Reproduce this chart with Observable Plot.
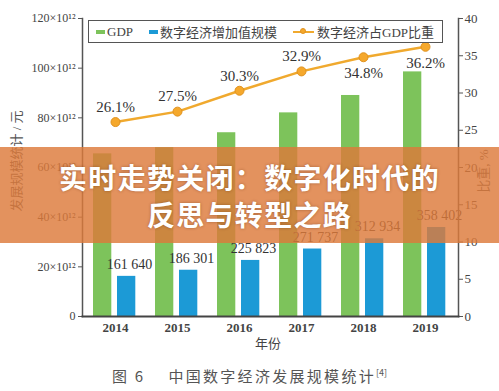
<!DOCTYPE html>
<html><head><meta charset="utf-8">
<script src="https://cdn.jsdelivr.net/npm/d3@7"></script>
<script src="https://cdn.jsdelivr.net/npm/@observablehq/plot@0.6"></script>
<style>
body{margin:0;background:#fff;width:499px;height:391px;overflow:hidden;position:relative;font-family:"Liberation Serif","Noto Sans CJK SC",serif;color:#444;}
#chart{position:absolute;left:0;top:0;}
#legend{position:absolute;left:88px;top:20px;width:355px;height:23px;border:1.5px solid #555;box-sizing:border-box;background:#fff;display:flex;align-items:center;font-size:13px;color:#444;white-space:nowrap;}
#legend .it{display:flex;align-items:center;}
.sw{display:inline-block;width:9px;height:4px;margin-right:2px;}
.ln{position:relative;display:inline-block;width:21px;height:2px;background:#f0a92e;margin-right:3px;}
.ln::after{content:"";position:absolute;left:7px;top:-3px;width:6px;height:6px;border-radius:50%;background:#f5a82c;border:1px solid #e0921f;box-sizing:border-box;}
.ylab{position:absolute;font-size:13px;color:#555;white-space:nowrap;transform:translate(-50%,-50%) rotate(-90deg);}
#xlab{position:absolute;left:268px;top:342px;transform:translate(-50%,-50%);font-size:13px;color:#444;}
#caption{position:absolute;left:0;top:365px;width:499px;text-align:center;font-size:15px;color:#555;font-family:"Noto Sans CJK SC",sans-serif;letter-spacing:2.3px;}
#caption sup{font-size:9px;letter-spacing:0;}
#banner{position:absolute;left:0;top:147px;width:499px;height:96px;background:rgba(221,122,58,0.82);text-align:center;color:#fff;font-family:"Noto Sans CJK SC",sans-serif;font-weight:bold;font-size:28px;letter-spacing:1.3px;line-height:37px;padding-top:12px;box-sizing:border-box;text-shadow:0 0 3px rgba(90,40,10,0.45);}
</style></head><body>
<div id="chart"></div>
<div id="legend"></div>
<div class="ylab" style="left:15px;top:161px;">发展规模统计 / 元</div>
<div class="ylab" style="left:482px;top:171px;">比重, %</div>
<div id="xlab">年份</div>
<div id="caption">图 6　 中国数字经济发展规模统计<sup>[4]</sup></div>
<div id="banner">实时走势关闭：数字化时代的<br>反思与转型之路</div>
<script>
const years = ["2014", "2015", "2016", "2017", "2018", "2019"];
const gdp = [65.5, 68, 74, 82, 89, 98.5];
const digital = [16.164, 18.630, 22.582, 27.174, 31.293, 35.840];
const digitalLabels = ["161 640", "186 301", "225 823", "271 737", "312 934", "358 402"];
const share = [26.1, 27.5, 30.3, 32.9, 34.8, 36.2];
const leftTicks = [0, 20, 40, 60, 80, 100, 120];
const rightTicks = [0, 5, 10, 15, 20, 25, 30, 35, 40];
const seriesNames = ["GDP", "数字经济增加值规模", "数字经济占GDP比重"];
const colors = ["#7dc35b", "#1c9ad6", "#f0a92e"];

const K = 3; // right axis (0–40 %) mapped onto left axis (0–120)
const rows = years.map((y, i) => ({year: y, gdp: gdp[i], digital: digital[i], label: digitalLabels[i], share: share[i]}));

const chart = Plot.plot({
  width: 499, height: 355,
  marginLeft: 82, marginRight: 41, marginTop: 18, marginBottom: 39,
  style: {fontFamily: "Liberation Serif, Noto Sans CJK SC, serif", fontSize: "12px", color: "#444", background: "transparent"},
  x: {type: "band", domain: years, padding: 0, label: null},
  y: {domain: [0, 120], label: null},
  marks: [
    Plot.barY(rows, {x: "year", y: "gdp", fill: colors[0], insetLeft: 9, insetRight: 34.7}),
    Plot.barY(rows, {x: "year", y: "digital", fill: colors[1], insetLeft: 33, insetRight: 10.7}),
    Plot.text(rows, {x: "year", y: "digital", text: "label", dx: 14, dy: -12, fontSize: 14, fill: "#333"}),
    Plot.line(rows, {x: "year", y: d => d.share * K, stroke: colors[2], strokeWidth: 2.5}),
    Plot.dot(rows, {x: "year", y: d => d.share * K, r: 4.5, fill: "#f5a82c", stroke: "#e0921f", strokeWidth: 1}),
    Plot.text(rows, {filter: (d, i) => i < 4, x: "year", y: d => d.share * K, text: d => d.share.toFixed(1) + "%", dy: -15, fontSize: 15, fill: "#333"}),
    Plot.text(rows, {filter: (d, i) => i >= 4, x: "year", y: d => d.share * K, text: d => d.share.toFixed(1) + "%", dy: 16, fontSize: 15, fill: "#333"}),
    Plot.axisY({ticks: leftTicks, tickFormat: d => d === 0 ? "0" : d + "×10¹²", tickSize: 4, tickPadding: 3, label: null, fontSize: 12, stroke: "#555"}),
    Plot.axisY(rightTicks.map(v => v * K), {anchor: "right", tickFormat: d => d / K, tickSize: 4, tickPadding: 2, label: null, fontSize: 13, stroke: "#555"}),
    Plot.axisX({tickSize: 0, tickPadding: 6, label: null, fontSize: 13, fontWeight: "bold"}),
    Plot.frame({anchor: "left", stroke: "#555", strokeWidth: 1.5}),
    Plot.frame({anchor: "right", stroke: "#555", strokeWidth: 1.5}),
    Plot.frame({anchor: "bottom", stroke: "#444", strokeWidth: 2})
  ]
});
document.getElementById("chart").append(chart);

const lg = document.getElementById("legend");
const items = [
  {html: `<span class="sw" style="background:${colors[0]}"></span>${seriesNames[0]}`, ml: 7},
  {html: `<span class="sw" style="background:${colors[1]}"></span>${seriesNames[1]}`, ml: 16},
  {html: `<span class="ln"></span>${seriesNames[2]}`, ml: 16}
];
for (const it of items) {
  const s = document.createElement("span");
  s.className = "it";
  s.style.marginLeft = it.ml + "px";
  s.innerHTML = it.html;
  lg.append(s);
}
</script>
</body></html>
